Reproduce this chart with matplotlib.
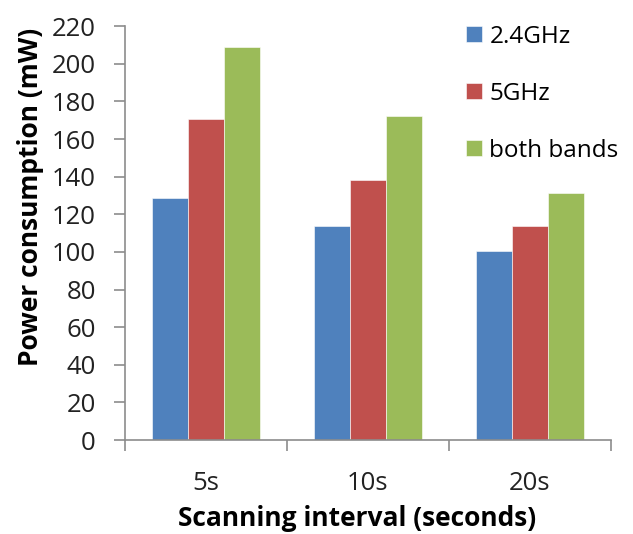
import matplotlib.pyplot as plt
import numpy as np

intervals = ["5s", "10s", "20s"]
bands = ["2.4GHz", "5GHz", "both bands"]
power_24 = [128.6, 113.9, 100.4]
power_5 = [170.4, 138.0, 113.9]
power_both = [209.0, 172.2, 131.1]
colors = ["#4F81BD", "#C0504D", "#9BBB59"]

plt.rcParams['font.family'] = ['Open Sans', 'DejaVu Sans']

fig = plt.figure(figsize=(6.33, 5.34), dpi=100)
ax = fig.add_axes([0.1975, 0.176, 0.767, 0.775])

x = np.arange(len(intervals))
w = 0.222
for i, (vals, lab) in enumerate(zip([power_24, power_5, power_both], bands)):
    ax.bar(x + (i - 1) * w, vals, w, color=colors[i], label=lab,
           edgecolor='white', linewidth=0.4)

ax.set_xlim(-0.5, 2.5)
ax.set_ylim(0, 220)
ax.set_yticks(range(0, 221, 20))
ax.set_xticks(x)
ax.set_xticklabels(intervals)
ax.set_xticks([-0.5, 0.5, 1.5, 2.5], minor=True)

for side in ['top', 'right']:
    ax.spines[side].set_visible(False)
for side in ['left', 'bottom']:
    ax.spines[side].set_color('#8c8c8c')
    ax.spines[side].set_linewidth(1.2)

ax.tick_params(axis='y', length=8, color='#8c8c8c', width=1.2,
               labelsize=18.5, labelcolor='#222222', pad=13)
ax.tick_params(axis='x', which='major', length=0, labelsize=18.5,
               labelcolor='#222222', pad=22)
ax.tick_params(axis='x', which='minor', length=8, color='#8c8c8c', width=1.2)

ax.set_ylabel("Power consumption (mW)", fontsize=19, fontweight='bold')
ax.set_xlabel("Scanning interval (seconds)", fontsize=19, fontweight='bold')
ax.yaxis.set_label_coords(-0.167, 0.587)
ax.xaxis.set_label_coords(0.477, -0.157)

ax.legend(loc='upper left', bbox_to_anchor=(0.683, 1.027), frameon=False,
          fontsize=17.5, labelspacing=1.36, handlelength=0.65, handleheight=0.65,
          handletextpad=0.3, borderaxespad=0)

fig.savefig("out.png", dpi=100)
